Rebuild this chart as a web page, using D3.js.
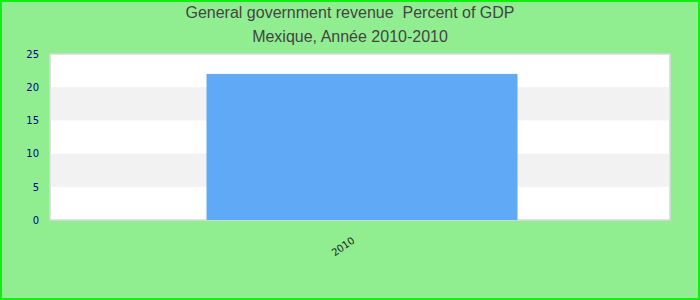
<!DOCTYPE html>
<html><head><meta charset="utf-8">
<script src="https://cdn.jsdelivr.net/npm/d3@7"></script>
<style>body{margin:0;padding:0;overflow:hidden}svg{display:block}</style>
</head><body>
<svg id="c" width="700" height="300"></svg>
<script>
const titleLines = ["General government revenue  Percent of GDP", "Mexique, Année 2010-2010"];
const categories = ["2010"];
const values = [22.0];
const yTicks = [0, 5, 10, 15, 20, 25];

const svg = d3.select("#c");
const W = 700, H = 300;
const m = {left: 50, right: 30, top: 54, bottom: 80};
const pw = W - m.left - m.right, ph = H - m.top - m.bottom;

svg.append("rect").attr("x",1).attr("y",1).attr("width",W-2).attr("height",H-2)
  .attr("fill","#90ee90").attr("stroke","#11ee11").attr("stroke-width",2);

svg.selectAll("text.title").data(titleLines).enter().append("text")
  .attr("x",W/2).attr("y",(d,i)=>18+i*24).attr("text-anchor","middle")
  .style("white-space","pre")
  .attr("font-family","Liberation Sans, Arial, sans-serif").attr("font-size",16)
  .attr("fill","#444").text(d=>d);

const x = d3.scaleBand().domain(categories).range([m.left+1.5, m.left+pw+1.5]).paddingInner(0.5).paddingOuter(0.25);
const y = d3.scaleLinear().domain([0,25]).range([m.top+ph, m.top]);

svg.append("rect").attr("x",m.left).attr("y",m.top).attr("width",pw).attr("height",ph)
  .attr("fill","#fff").attr("stroke","#d8d8d8").attr("stroke-width",1.5);

const bands = [];
for (let i=0;i<yTicks.length-1;i++) if (i%2===1) bands.push([yTicks[i],yTicks[i+1]]);
svg.selectAll("rect.band").data(bands).enter().append("rect")
  .attr("x",m.left+1).attr("width",pw-2).attr("y",d=>y(d[1])).attr("height",d=>y(d[0])-y(d[1]))
  .attr("fill","#f2f2f2");

svg.selectAll("rect.bar").data(values).enter().append("rect")
  .attr("x",(d,i)=>x(categories[i])).attr("width",x.bandwidth()+1)
  .attr("y",d=>y(d)).attr("height",d=>y(0)-y(d)).attr("fill","#60a9f6");

const ya = d3.axisLeft(y).tickValues(yTicks).tickSize(0).tickPadding(0);
const gy = svg.append("g").attr("transform",`translate(${m.left-11},0)`).call(ya);
gy.select(".domain").remove();
gy.selectAll("text").attr("font-family","DejaVu Sans, sans-serif").attr("font-size",10).attr("fill","#00008b");

const xa = d3.axisBottom(x).tickSize(0).tickPadding(0);
const gx = svg.append("g").attr("transform",`translate(0,${m.top+ph})`).call(xa);
gx.select(".domain").remove();
gx.selectAll("text").attr("font-family","DejaVu Sans, sans-serif").attr("font-size",10).attr("fill","#222")
  .attr("text-anchor","end").attr("dy",0).attr("transform","translate(-6,22) rotate(-35)");
</script>
</body></html>
